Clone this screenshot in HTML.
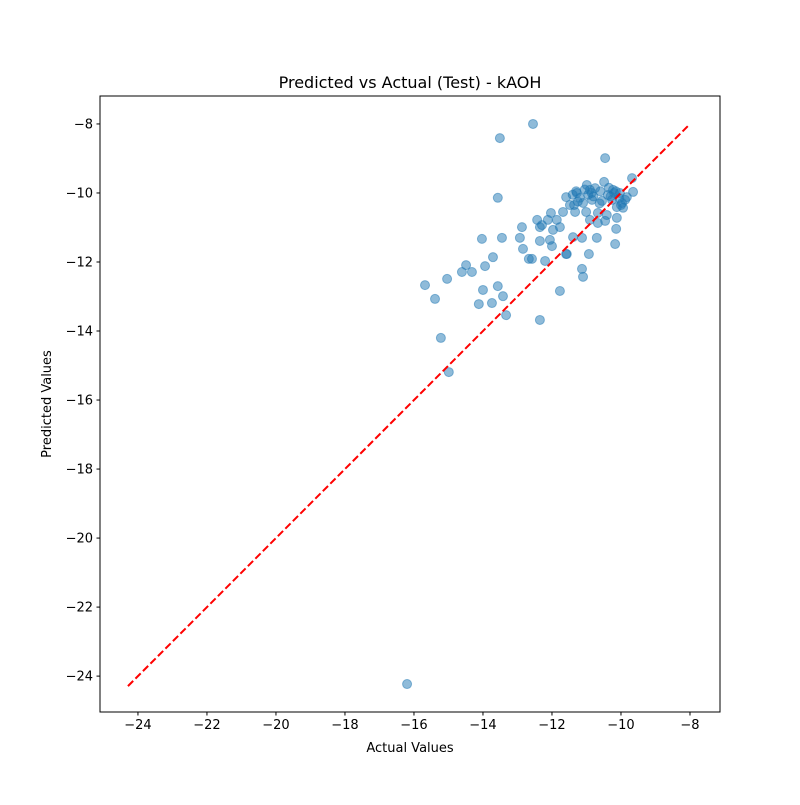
<!DOCTYPE html>
<html><head><meta charset="utf-8"><style>
body{margin:0;background:#fff;font-family:"Liberation Sans","DejaVu Sans",sans-serif}
</style></head><body>
<svg id="chart" width="800" height="800" xmlns="http://www.w3.org/2000/svg" font-family="DejaVu Sans, Liberation Sans, sans-serif">
<rect width="800" height="800" fill="#fff"/>
<g id="points"></g>
<g id="axes"></g>
</svg>
<script>
const actual = [-13.51,-12.55,-10.46,-13.57,-16.20,-14.99,-15.22,-15.68,-15.39,-15.04,-14.61,-14.49,-14.32,-14.03,-13.94,-13.71,-14.0,-14.12,-13.74,-13.57,-13.42,-13.33,-13.45,-12.93,-12.84,-12.67,-12.58,-12.20,-12.35,-11.77,-12.35,-12.0,-11.57,-12.87,-9.68,-10.49,-10.99,-11.28,-11.59,-11.36,-11.10,-10.84,-10.75,-10.55,-10.23,-10.03,-9.83,-9.65,-9.97,-10.12,-9.94,-10.26,-11.48,-11.68,-12.03,-11.33,-11.01,-10.67,-10.41,-10.12,-10.90,-10.67,-10.46,-12.43,-12.35,-12.12,-11.86,-11.97,-11.77,-12.29,-10.14,-11.39,-11.13,-10.70,-12.06,-10.17,-11.59,-10.93,-11.13,-11.10,-10.90,-11.19,-10.38,-9.88,-11.30,-11.05,-10.95,-10.80,-10.60,-10.35,-10.20,-10.05,-11.25,-10.85,-10.30,-10.15,-11.40,-10.62,-10.00];
const predicted = [-8.41,-8.0,-8.99,-10.14,-24.23,-15.19,-14.20,-12.67,-13.07,-12.49,-12.29,-12.09,-12.29,-11.33,-12.12,-11.86,-12.81,-13.22,-13.19,-12.70,-12.99,-13.54,-11.30,-11.30,-11.62,-11.91,-11.91,-11.97,-13.68,-12.84,-11.39,-11.54,-11.77,-10.99,-9.57,-9.68,-9.77,-10.0,-10.12,-10.35,-10.29,-10.20,-9.86,-10.23,-9.91,-10.0,-10.12,-9.97,-10.29,-10.41,-10.43,-10.20,-10.35,-10.55,-10.58,-10.55,-10.55,-10.58,-10.64,-10.72,-10.78,-10.87,-10.81,-10.78,-10.99,-10.78,-10.78,-11.07,-10.99,-10.93,-11.04,-11.28,-11.30,-11.30,-11.36,-11.48,-11.77,-11.77,-12.20,-12.43,-9.91,-10.14,-10.06,-10.2,-9.95,-9.90,-10.05,-10.10,-9.95,-9.85,-10.00,-10.15,-10.25,-10.00,-10.10,-9.95,-10.05,-10.30,-10.35];
const xTicks = [-24,-22,-20,-18,-16,-14,-12,-10,-8];
const yTicks = [-24,-22,-20,-18,-16,-14,-12,-10,-8];
const lineRange = [-24.29,-8.0];

const L=100,R=720,T=96,B=712;
const xMin=-25.10,xMax=-7.13,yMin=-25.04,yMax=-7.19;
const sx=v=>L+(v-xMin)/(xMax-xMin)*(R-L);
const sy=v=>B-(v-yMin)/(yMax-yMin)*(B-T);
const NS="http://www.w3.org/2000/svg";
const mk=(t,a,p)=>{const e=document.createElementNS(NS,t);for(const k in a)e.setAttribute(k,a[k]);p.appendChild(e);return e;};
const pts=document.getElementById('points'), ax=document.getElementById('axes');
actual.forEach((v,i)=>{
  const c=mk('circle',{cx:sx(v),cy:sy(predicted[i]),r:4.5,fill:'#1f77b4','fill-opacity':0.5,stroke:'#1f77b4','stroke-opacity':0.5,'stroke-width':1},pts);
  
  
});
const ln=mk('line',{x1:sx(lineRange[0]),y1:sy(lineRange[0]),x2:sx(lineRange[1]),y2:sy(lineRange[1]),stroke:'red','stroke-width':2,'stroke-dasharray':'7.4,3.2'},ax);


const fr=mk('rect',{x:L,y:T,width:R-L,height:B-T,fill:'none',stroke:'#000','stroke-width':1},ax);


xTicks.forEach(v=>{
  const x=sx(v);
  mk('line',{x1:x,y1:B,x2:x,y2:B+3.5,stroke:'#000'},ax);
  const t=mk('text',{x:x,y:B+17,'text-anchor':'middle','font-size':13},ax);
  t.textContent='\u2212'+Math.abs(v);
  
  
});
yTicks.forEach(v=>{
  const y=sy(v);
  mk('line',{x1:L-3.5,y1:y,x2:L,y2:y,stroke:'#000'},ax);
  const t=mk('text',{x:L-7,y:y+4.5,'text-anchor':'end','font-size':13},ax);
  t.textContent='\u2212'+Math.abs(v);
  
  
});
</script>
<svg style="position:absolute;left:0;top:0" width="800" height="800" font-family="DejaVu Sans, Liberation Sans, sans-serif">
<text x="410" y="88" text-anchor="middle" font-size="16">Predicted vs Actual (Test) - kAOH</text>
<text x="410" y="752" text-anchor="middle" font-size="13">Actual Values</text>
<text x="51" y="404" text-anchor="middle" font-size="13" transform="rotate(-90 51 404)">Predicted Values</text>
</svg>
</body></html>
